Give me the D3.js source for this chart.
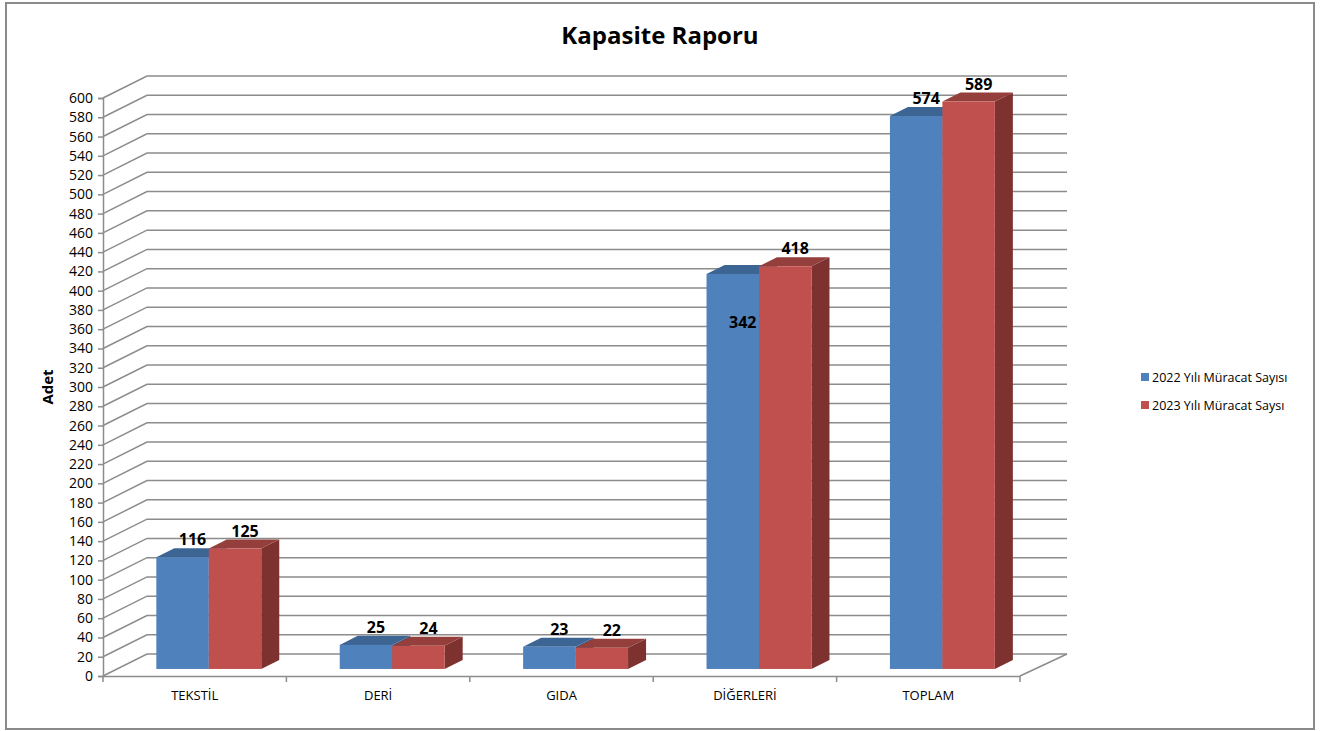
<!DOCTYPE html>
<html>
<head>
<meta charset="utf-8">
<script src="https://cdn.jsdelivr.net/npm/d3@7"></script>
<style>
  body { margin: 0; background: #fff; }
  text { font-family: "Open Sans", "DejaVu Sans", sans-serif; }
</style>
</head>
<body>
<script>
var categories = ["TEKSTİL", "DERİ", "GIDA", "DİĞERLERİ", "TOPLAM"];
var seriesNames = ["2022 Yılı Müracat Sayısı", "2023 Yılı Müracat Saysı"];
var values2022 = [116, 25, 23, 410, 574];
var values2023 = [125, 24, 22, 418, 589];
// the labels as printed on the chart (DİĞERLERİ 2022 shows 342 on a taller bar)
var labels2022 = [116, 25, 23, 342, 574];
var labels2023 = [125, 24, 22, 418, 589];
var yTicks = d3.range(0, 601, 20);

var svgWidth = 1321;
var svgHeight = 731;

var front = { left: 103, right: 1020, top: 98, bottom: 676 };
var depth = { dx: 44, dy: -22 };
var barFront = 0.32, barBack = 0.73;

var colors = [
    { front: "#4f81bd", top: "#3d6594", side: "#375a85" },
    { front: "#c0504d", top: "#953f3c", side: "#7e3230" }
];

var svg = d3.select("body")
    .append("svg")
    .attr("width", svgWidth)
    .attr("height", svgHeight);

// outer frame
svg.append("rect")
    .attr("x", 6).attr("y", 3)
    .attr("width", 1308).attr("height", 726)
    .attr("fill", "#fff")
    .attr("stroke", "#8a8a8a")
    .attr("stroke-width", 2);

var xBand = d3.scaleBand()
    .domain(categories)
    .range([front.left, front.right]);

var yScale = d3.scaleLinear()
    .domain([0, 600])
    .range([front.bottom, front.top]);

var xSeries = d3.scaleBand()
    .domain(seriesNames)
    .range([-xBand.bandwidth() * 0.286, xBand.bandwidth() * 0.286]);

function proj(x, v, d) {
    return [x + depth.dx * d, yScale(v) + depth.dy * d];
}

var gridColor = "#8c8c8c";

// grid: side wall diagonals + back wall lines
var grid = svg.append("g");
yTicks.forEach(function(t) {
    var a = proj(front.left, t, 0), b = proj(front.left, t, 1);
    grid.append("path")
        .attr("d", "M" + a + "L" + b + "L" + [front.right + depth.dx + 3, b[1]])
        .attr("fill", "none")
        .attr("stroke", gridColor)
        .attr("stroke-width", 1.5);
});
// floor right edge
var f1 = proj(front.right, 0, 0), f2 = proj(front.right + 3, 0, 1);
grid.append("path")
    .attr("d", "M" + f1 + "L" + f2)
    .attr("stroke", gridColor)
    .attr("stroke-width", 1.5);

// axes
var leftAxis = d3.axisLeft(yScale)
    .tickValues(yTicks)
    .tickSize(5)
    .tickPadding(5);

var yAxisG = svg.append("g")
    .attr("transform", "translate(" + front.left + ",0)")
    .call(leftAxis);
yAxisG.select(".domain").attr("stroke", gridColor).attr("stroke-width", 1.5);
yAxisG.selectAll(".tick line").attr("stroke", gridColor).attr("stroke-width", 1.5);
yAxisG.selectAll(".tick text")
    .style("font-size", "14px")
    .attr("fill", "#000");

var bottomAxis = d3.axisBottom(xBand)
    .tickSize(0)
    .tickPadding(15);

var xAxisG = svg.append("g")
    .attr("transform", "translate(0," + front.bottom + ")")
    .call(bottomAxis);
xAxisG.select(".domain").attr("stroke", gridColor).attr("stroke-width", 1.5);
xAxisG.selectAll(".tick text")
    .style("font-size", "13px")
    .attr("fill", "#000");
// category separators
xAxisG.selectAll(".sep")
    .data(categories.concat(["end"]))
    .enter().append("line")
    .attr("x1", function(d, i) { return front.left + i * xBand.step(); })
    .attr("x2", function(d, i) { return front.left + i * xBand.step(); })
    .attr("y1", 0).attr("y2", 6)
    .attr("stroke", gridColor)
    .attr("stroke-width", 1.5);

// bars
var seriesValues = [values2022, values2023];
var bars = svg.append("g");
categories.forEach(function(cat, ci) {
    seriesNames.forEach(function(s, si) {
        var v = seriesValues[si][ci];
        var x0 = xBand(cat) + xBand.bandwidth() / 2 + xSeries(s);
        var x1 = x0 + xSeries.bandwidth();
        var col = colors[si];
        var p = proj;
        // side
        bars.append("path")
            .attr("d", "M" + p(x1, 0, barFront) + "L" + p(x1, 0, barBack) + "L" + p(x1, v, barBack) + "L" + p(x1, v, barFront) + "Z")
            .attr("fill", col.side);
        // top
        bars.append("path")
            .attr("d", "M" + p(x0, v, barFront) + "L" + p(x0, v, barBack) + "L" + p(x1, v, barBack) + "L" + p(x1, v, barFront) + "Z")
            .attr("fill", col.top);
        // front
        var a = p(x0, v, barFront), b = p(x1, 0, barFront);
        bars.append("rect")
            .attr("x", a[0]).attr("y", a[1])
            .attr("width", b[0] - a[0]).attr("height", b[1] - a[1])
            .attr("fill", col.front);
    });
});

// data labels
var seriesLabels = [labels2022, labels2023];
var labelG = svg.append("g");
categories.forEach(function(cat, ci) {
    seriesNames.forEach(function(s, si) {
        var lv = seriesLabels[si][ci];
        var xc = xBand(cat) + xBand.bandwidth() / 2 + xSeries(s) + xSeries.bandwidth() / 2;
        var pt = proj(xc, lv, barFront);
        labelG.append("text")
            .attr("x", pt[0] + 10)
            .attr("y", pt[1] - 12)
            .attr("text-anchor", "middle")
            .style("font-size", "16px")
            .style("font-weight", "bold")
            .text(lv);
    });
});

// title
svg.append("text")
    .attr("x", 660)
    .attr("y", 44)
    .attr("text-anchor", "middle")
    .style("font-size", "24px")
    .style("font-weight", "bold")
    .text("Kapasite Raporu");

// y axis title
svg.append("text")
    .attr("transform", "translate(53,387) rotate(-90)")
    .attr("text-anchor", "middle")
    .style("font-size", "15px")
    .style("font-weight", "bold")
    .text("Adet");

// legend
var legend = svg.append("g")
    .attr("transform", "translate(1141,377)");
seriesNames.forEach(function(s, i) {
    var row = legend.append("g").attr("transform", "translate(0," + i * 28 + ")");
    row.append("rect")
        .attr("x", 0).attr("y", -4)
        .attr("width", 8).attr("height", 8)
        .attr("fill", colors[i].front);
    row.append("text")
        .attr("x", 11)
        .attr("y", 4.5)
        .style("font-size", "12.5px")
        .text(s);
});
</script>
</body>
</html>
